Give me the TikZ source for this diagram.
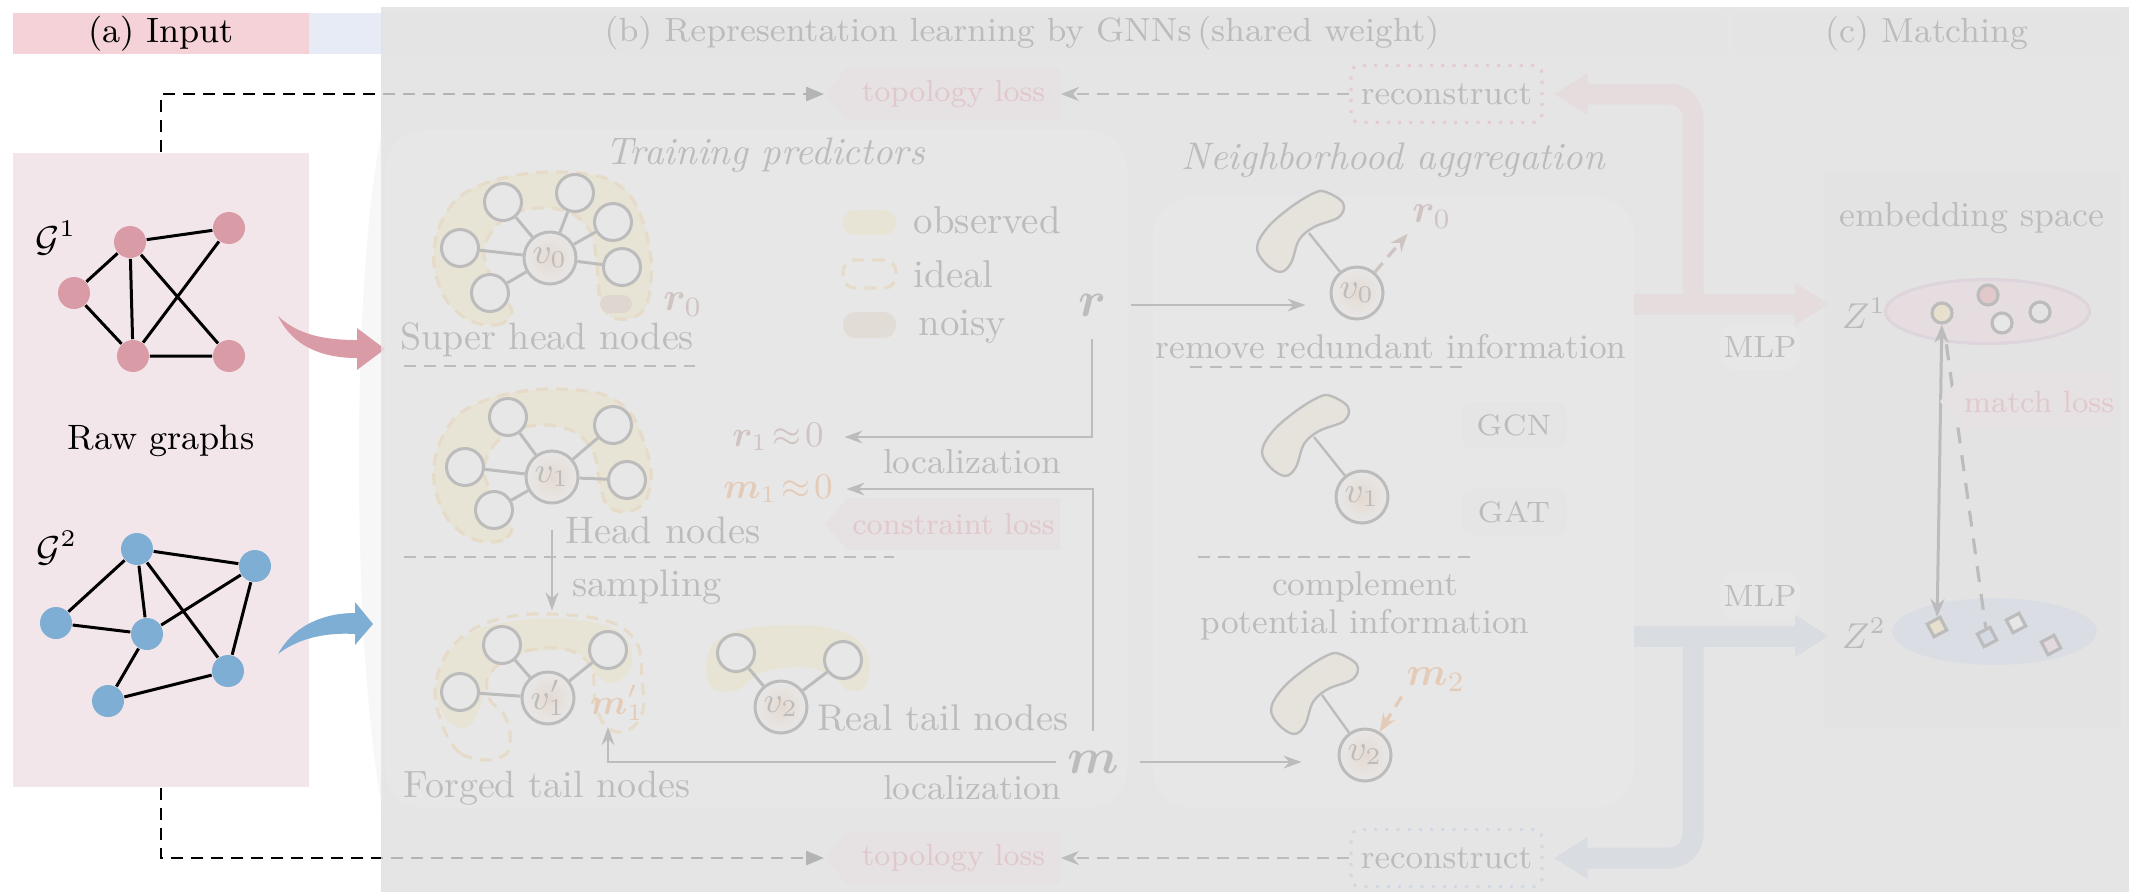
\documentclass[tikz,border=0pt]{standalone}
\usepackage{fix-cm}
\usepackage{amsmath,amssymb,bm}
\usetikzlibrary{arrows.meta,shapes.symbols,shapes.geometric,calc}

\definecolor{apink}{HTML}{F5D2D8}
\definecolor{apanelc}{HTML}{F3E6EB}
\definecolor{bblue}{HTML}{E6EBF6}
\definecolor{g1c}{HTML}{D99BA5}
\definecolor{g2c}{HTML}{7EAED3}
\definecolor{ovc}{HTML}{E2E2E2}
\definecolor{ink}{HTML}{262626}
\definecolor{lossfill}{HTML}{F6DDE2}
\definecolor{losstext}{HTML}{E06075}
\definecolor{bandc}{HTML}{FBE7A1}
\definecolor{idealc}{HTML}{F2C060}
\definecolor{noisyc}{HTML}{D7AF87}
\definecolor{brownc}{HTML}{8A5048}
\definecolor{orangec}{HTML}{F07010}
\definecolor{blobc}{HTML}{F5EBC8}
\definecolor{fatpink}{HTML}{F2C6CE}
\definecolor{fatblue}{HTML}{B8CCE6}
\definecolor{recpink}{HTML}{F07890}
\definecolor{recblue}{HTML}{90B0E0}
\definecolor{zpink}{HTML}{F2CCD5}
\definecolor{zpinkb}{HTML}{D0A0C8}
\definecolor{zyellow}{HTML}{F8D878}
\definecolor{zred}{HTML}{E06070}
\definecolor{zblue}{HTML}{BCD2EE}
\definecolor{sqblue}{HTML}{A0B8F0}
\definecolor{sqpink}{HTML}{E8B0D0}
\definecolor{vinner}{HTML}{F2B88A}

\newcommand\fsz[1]{\fontsize{#1}{#1}\selectfont}

\tikzset{
  txt/.style={inner sep=1pt,text=ink},
  gn1/.style={circle,fill=g1c,minimum size=8pt,inner sep=0pt},
  gn2/.style={circle,fill=g2c,minimum size=8pt,inner sep=0pt},
  ge/.style={line width=0.75pt,black},
  nb/.style={circle,draw=ink,line width=0.75pt,fill=white,minimum size=9.25pt,inner sep=0pt},
  ctr/.style={circle,draw=ink,line width=0.75pt,minimum size=13pt,inner sep=0pt,inner color=vinner,outer color=white,font=\fsz{9},text=ink},
  pe/.style={line width=0.75pt,draw=ink},
  loss/.style={signal,signal to=west,signal pointer angle=100,fill=lossfill,text=losstext,minimum width=58.75pt,minimum height=13pt,inner sep=0pt,font=\fsz{7.6}},
  recon/.style={rounded corners=2pt,draw,dotted,line width=0.8pt,minimum width=47.75pt,minimum height=14.25pt,inner sep=0pt,text=ink,font=\fsz{8.5}},
  sepline/.style={ink,line width=0.4pt,dash pattern=on 3pt off 2pt},
  garrow/.style={ink,line width=0.6pt,-{Stealth[length=4.5pt,width=3.2pt]}},
  fat/.style={line width=5.25pt,-{Triangle[length=8.5pt,width=10pt]}},
  idealline/.style={draw=idealc,line width=0.8pt,dash pattern=on 3pt off 2pt},
  smallbox/.style={rounded corners=3pt,fill=black!4,minimum width=26.5pt,minimum height=11.75pt,inner sep=0pt,text=ink,font=\fsz{7.4}},
  blackdash/.style={black,line width=0.7pt,dash pattern=on 3pt off 2pt,-{Triangle[length=4.5pt,width=3.5pt]}},
  inkdash/.style={ink,line width=0.7pt,dash pattern=on 3pt off 2pt,-{Stealth[length=4.5pt,width=3.5pt]}},
  pics/blob/.style={code={
    \draw[draw=ink,line width=0.6pt,fill=blobc] plot[smooth cycle,tension=0.6] coordinates {(-31,-101) (-14,-90) (-18,-76) (-43,-66) (-58,-53) (-66,-30) (-77,-21) (-92,-30) (-100,-46) (-89,-66) (-66,-86) (-43,-100)};
  }},
}

\begin{document}
\begin{tikzpicture}[x=0.25pt,y=-0.25pt]
\useasboundingbox (0,0) rectangle (2129,892);
\fill[white] (0,0) rectangle (2129,892);
\fill[black!4] (381,7) rectangle (2129,892);
\fill[black!3] (383,128) .. controls (352,260) and (350,640) .. (383,812) -- cycle;

% ---------- panels ----------
\node[fill=white,rounded corners=10pt,minimum width=185.5pt,minimum height=169.5pt,inner sep=0pt] (tp) at (756,469) {};
\node[fill=white,rounded corners=10pt,minimum width=120.25pt,minimum height=152.75pt,inner sep=0pt] (na) at (1393.5,502.5) {};
\node[fill=black!8,minimum width=74.25pt,minimum height=138.75pt,inner sep=0pt] (cp) at (1972.5,450.5) {};

% ---------- headers ----------
\fill[bblue] (309,13) rectangle (383,54);
\node[fill=black!6,minimum width=336pt,minimum height=10.25pt,inner sep=0pt] (hb) at (1055,33.5) {};
\node[txt,font=\fsz{8.4}] (hbt) at (1022,33.5) {(b) Representation learning by GNNs\,(shared weight)};
\node[fill=black!6,minimum width=97pt,minimum height=10.25pt,inner sep=0pt,font=\fsz{8.7},text=ink] (hc) at (1927,33.5) {(c) Matching};
\node[fill=apink,minimum width=74pt,minimum height=10.25pt,inner sep=0pt,font=\fsz{8.8}] (ha) at (161,33.5) {(a) Input};

% ---------- panel (a) ----------
\node[fill=apanelc,minimum width=74pt,minimum height=158.5pt,inner sep=0pt] (apan) at (161,470) {};
\node[txt,text=black,font=\fsz{9}] (g1lab) at (56,238) {$\mathcal{G}^1$};
\node[txt,text=black,font=\fsz{9}] (g2lab) at (57,548) {$\mathcal{G}^2$};
\node[txt,text=black,font=\fsz{8.8}] (raw) at (161,441) {Raw graphs};

\node[gn1] (a1) at (130,242) {};
\node[gn1] (a2) at (229,228) {};
\node[gn1] (a3) at (74,293) {};
\node[gn1] (a4) at (133,356) {};
\node[gn1] (a5) at (229,356) {};
\draw[ge] (a1)--(a2) (a1)--(a3) (a1)--(a4) (a1)--(a5) (a2)--(a4) (a3)--(a4) (a4)--(a5);

\node[gn2] (b1) at (137,549) {};
\node[gn2] (b2) at (255,566) {};
\node[gn2] (b3) at (56,623) {};
\node[gn2] (b4) at (147,634) {};
\node[gn2] (b5) at (228,671) {};
\node[gn2] (b6) at (108,701) {};
\draw[ge] (b1)--(b2) (b1)--(b3) (b1)--(b4) (b1)--(b5) (b2)--(b4) (b2)--(b5) (b3)--(b4) (b4)--(b6) (b6)--(b5);

\fill[g1c] (278,316) .. controls (292,345) and (320,358) .. (357,358) -- (357,370) -- (385,349) -- (357,328) -- (357,340) .. controls (325,340) and (298,335) .. cycle;
\fill[g2c] (278,654) .. controls (292,628) and (320,613) .. (355,613) -- (355,602) -- (373,624) -- (355,645) -- (355,634) .. controls (322,632) and (296,640) .. cycle;

% ---------- top / bottom rows ----------
\node[loss] (topo1) at (953.5,94) {topology loss};
\node[loss] (topo2) at (953.5,858) {topology loss};
\node[recon,draw=recpink] (rec1) at (1446.5,94) {reconstruct};
\node[recon,draw=recblue] (rec2) at (1446.5,858) {reconstruct};
\draw[blackdash] (apan.north) |- (topo1.west);
\draw[blackdash] (apan.south) |- (topo2.west);
\draw[inkdash] (rec1.west) -- (topo1.east);
\draw[inkdash] (rec2.west) -- (topo2.east);

% ---------- training predictors ----------
\node[txt,font=\fsz{9.6}\itshape] (tptitle) at (765,155) {Training predictors};

\path[fill=bandc,idealline] plot[smooth cycle,tension=0.55] coordinates {(512,312) (503,323) (485,325) (465,318) (445,298) (434,265) (438,230) (458,198) (495,180) (545,172) (598,176) (628,193) (643,222) (651,258) (650,290) (644,310) (628,319) (610,316) (600,298) (597,265) (591,233) (573,214) (547,208) (517,212) (495,227) (484,250) (490,275) (503,295)};
\node[fill=noisyc,rounded corners=2.25pt,minimum width=8pt,minimum height=4.5pt,inner sep=0pt] (noisy0) at (616,304) {};
\path[fill=bandc,idealline] plot[smooth cycle,tension=0.55] coordinates {(512,529) (503,540) (485,542) (465,535) (445,515) (434,482) (438,447) (458,415) (495,397) (545,389) (598,393) (628,410) (643,439) (651,470) (648,495) (638,508) (622,512) (607,505) (600,485) (596,460) (589,445) (573,431) (547,425) (517,429) (495,444) (484,467) (490,492) (503,512)};
\fill[bandc] plot[smooth cycle,tension=0.55] coordinates {(448,722) (436,690) (447,655) (477,630) (520,620) (570,619) (610,627) (630,645) (630,670) (612,683) (594,673) (586,657) (562,650) (530,652) (503,662) (486,683) (480,708) (468,727)};
\draw[idealline] plot[smooth cycle,tension=0.55] coordinates {(487,760) (460,753) (443,727) (435,690) (447,653) (477,627) (520,615) (570,615) (613,623) (637,643) (642,677) (643,710) (633,727) (617,732) (603,723) (595,700) (593,673) (583,657) (560,648) (530,650) (503,660) (487,680) (490,700) (503,713) (510,733) (507,753)};
\fill[bandc] plot[smooth cycle,tension=0.55] coordinates {(706,672) (712,645) (740,630) (785,625) (830,628) (860,642) (870,665) (864,688) (847,690) (833,676) (810,668) (783,668) (758,674) (737,690) (714,690)};

\node[ctr] (v0) at (550,258) {$v_0$};
\node[nb] (s1) at (503,202) {};
\node[nb] (s2) at (575,193) {};
\node[nb] (s3) at (613,222) {};
\node[nb] (s4) at (622,267) {};
\node[nb] (s5) at (460,248) {};
\node[nb] (s6) at (490,293) {};
\foreach \n in {s1,s2,s3,s4,s5,s6} \draw[pe] (v0) -- (\n);
\node[txt,font=\fsz{10},text=brownc] (r0a) at (683,305) {$\bm{r}_0$};
\node[txt,font=\fsz{9.5}] (shn) at (547,340) {Super head nodes};
\draw[sepline] (404,366) -- (695,366);

\node[fill=bandc,rounded corners=3pt,minimum width=13.25pt,minimum height=6.25pt,inner sep=0pt] (swobs) at (869.5,222.5) {};
\node[idealline,rounded corners=3pt,minimum width=13.25pt,minimum height=7pt,inner sep=0pt] (swideal) at (869.5,274) {};
\node[fill=noisyc!70!white,rounded corners=3pt,minimum width=13.25pt,minimum height=6.5pt,inner sep=0pt] (swnoisy) at (869.5,325) {};
\node[txt,font=\fsz{9.7},anchor=west] (lobs) at (909,220) {observed};
\node[txt,font=\fsz{9.7},anchor=west] (lideal) at (909,274) {ideal};
\node[txt,font=\fsz{9.7},anchor=west] (lnoisy) at (914,327) {noisy};

\node[ctr] (v1) at (552,477) {$v_1$};
\node[nb] (h1) at (508,417) {};
\node[nb] (h2) at (613,425) {};
\node[nb] (h3) at (465,467) {};
\node[nb] (h4) at (494,510) {};
\node[nb] (h5) at (627,480) {};
\foreach \n in {h1,h2,h3,h4,h5} \draw[pe] (v1) -- (\n);
\node[txt,font=\fsz{9.6}] (hn) at (663,530) {Head nodes};
\draw[sepline] (404,557) -- (894,557);

\node[ctr] (v1p) at (548,698) {$v_1'$};
\node[nb] (f1) at (502,645) {};
\node[nb] (f2) at (608,650) {};
\node[nb] (f3) at (460,692) {};
\foreach \n in {f1,f2,f3} \draw[pe] (v1p) -- (\n);
\node[txt,font=\fsz{9},text=orangec] (m1plab) at (617,703) {$\bm{m}_1'$};
\node[txt,font=\fsz{9.5}] (ftn) at (547,788) {Forged tail nodes};

\draw[garrow,shorten <=6.25pt,shorten >=15pt] (v1.south) -- (v1.south |- v1p.north);
\node[txt,font=\fsz{9.6}] (samp) at (647,587) {sampling};

\node[ctr] (v2) at (781,707) {$v_2$};
\node[nb] (t1) at (736,653) {};
\node[nb] (t2) at (843,660) {};
\foreach \n in {t1,t2} \draw[pe] (v2) -- (\n);
\node[txt,font=\fsz{9.3}] (rtn) at (943,718) {Real tail nodes};

\node[txt,font=\fsz{12.5}] (rsym) at (1092,305) {$\bm{r}$};
\node[txt,font=\fsz{12.5}] (mlab) at (1093,762) {$\bm{m}$};
\node[txt,font=\fsz{9},text=brownc] (r1lab) at (778,437) {$\bm{r}_1\!\approx\!0$};
\node[txt,font=\fsz{9},text=orangec] (m1lab) at (778,489) {$\bm{m}_1\!\approx\!0$};
\node[txt,font=\fsz{8.7}] (loc1) at (972,462) {localization};
\node[txt,font=\fsz{8.7}] (loc2) at (972,788) {localization};
\node[loss] (closs) at (953.5,524) {constraint loss};
\coordinate (m1tip) at (608,727);
\draw[garrow,shorten <=4.5pt,shorten >=4pt] (rsym.south) |- (r1lab.east);
\draw[garrow,shorten <=3.75pt,shorten >=2.25pt] (mlab.north) |- (m1lab.east);
\draw[garrow,shorten <=1.5pt] (mlab.west) -| (m1tip);

% ---------- neighborhood aggregation ----------
\node[txt,font=\fsz{9.6}\itshape] (natitle) at (1393,160) {Neighborhood aggregation};
\node[ctr] (v0b) at (1357,293) {$v_0$};
\node[ctr] (v1b) at (1362,497) {$v_1$};
\node[ctr] (v2b) at (1365,755) {$v_2$};
\pic at (1357,293) {blob};
\pic at (1362,497) {blob};
\pic at (1371,755) {blob};
\draw[pe,line width=0.6pt] ([shift={(-48,-60)}]v0b.center) -- (v0b);
\draw[pe,line width=0.6pt] ([shift={(-48,-60)}]v1b.center) -- (v1b);
\draw[pe,line width=0.6pt] ([shift={(-43,-60)}]v2b.center) -- (v2b);
\node[txt,font=\fsz{10},text=brownc] (r0b) at (1432,217) {$\bm{r}_0$};
\node[txt,font=\fsz{10},text=orangec] (m2b) at (1436,680) {$\bm{m}_2$};
\draw[brownc,line width=0.8pt,dash pattern=on 3pt off 2pt,-{Stealth[length=4.5pt,width=3.5pt]}] (v0b) -- (r0b.south west);
\draw[orangec,line width=0.8pt,dash pattern=on 3pt off 2pt,-{Stealth[length=4.5pt,width=3.5pt]}] (m2b.south west) -- (v2b);
\node[txt,font=\fsz{8.6}] (rri) at (1391,347) {remove redundant information};
\draw[sepline] (1190,367) -- (1465,367);
\node[smallbox] (gcn) at (1514,425) {GCN};
\node[smallbox] (gat) at (1514,512) {GAT};
\draw[sepline] (1198,557) -- (1477,557);
\node[txt,align=center,font={\fontsize{8.6}{9.5}\selectfont}] (cpi) at (1365,606) {complement\\potential information};

\draw[garrow,shorten <=5pt,shorten >=6pt] (rsym.east) -- (rsym -| v0b.west);
\draw[garrow,shorten <=4pt,shorten >=9pt] (mlab.east) -- (mlab -| v2b.west);

% ---------- matching ----------
\node[txt,font=\fsz{8.7}] (emb) at (1972,218) {embedding space};
\node[txt,font=\fsz{9}] (z1lab) at (1864,313) {$Z^1$};
\node[txt,font=\fsz{9}] (z2lab) at (1864,633) {$Z^2$};
\node[ellipse,fill=zpink,draw=zpinkb,line width=0.8pt,minimum width=51pt,minimum height=16pt,inner sep=0pt] (z1e) at (1987.5,311.5) {};
\node[ellipse,fill=zblue,minimum width=51.25pt,minimum height=16.75pt,inner sep=0pt] (z2e) at (1994.5,631.5) {};
\node[circle,draw=ink,line width=0.8pt,fill=zyellow,minimum size=5pt,inner sep=0pt] (zc1) at (1942,313) {};
\node[circle,draw=ink,line width=0.8pt,fill=zred,minimum size=5pt,inner sep=0pt] (zc2) at (1988,295) {};
\node[circle,draw=ink,line width=0.8pt,fill=white,minimum size=5pt,inner sep=0pt] (zc3) at (2002,323) {};
\node[circle,draw=ink,line width=0.8pt,fill=black!8,minimum size=5pt,inner sep=0pt] (zc4) at (2040,312) {};
\node[draw=ink,line width=0.8pt,fill=zyellow,minimum size=3.6pt,inner sep=0pt,rotate=28] (zs1) at (1937,627) {};
\node[draw=ink,line width=0.8pt,fill=sqblue,minimum size=3.6pt,inner sep=0pt,rotate=28] (zs2) at (1987,637) {};
\node[draw=ink,line width=0.8pt,fill=white,minimum size=3.6pt,inner sep=0pt,rotate=28] (zs3) at (2016,623) {};
\node[draw=ink,line width=0.8pt,fill=sqpink,minimum size=3.6pt,inner sep=0pt,rotate=28] (zs4) at (2051,645) {};
\draw[ink,line width=0.75pt,{Stealth[length=4.5pt,width=3.5pt]}-{Stealth[length=4.5pt,width=3.5pt]}] (zc1) -- (zs1);
\draw[ink,line width=0.8pt,dash pattern=on 4pt off 3pt,shorten <=5pt] (zc1) -- (zs2);
\node[loss,minimum width=37.75pt,minimum height=14.25pt,font=\fsz{7.7}] (mloss) at (2039,401.5) {match loss};

% ---------- fat arrows & MLP ----------
\coordinate (fp1) at (1634,304);
\coordinate (fb1) at (1693,304);
\coordinate (fp2) at (1634,636);
\coordinate (fb2) at (1693,636);
\draw[fat,fatpink,rounded corners=6pt,shorten >=2.5pt] (fb1) |- (rec1.east);
\draw[fat,fatpink,shorten >=2pt] (fp1) -- (fp1 -| z1lab.west);
\draw[fat,fatblue,rounded corners=6pt,shorten >=2.5pt] (fb2) |- (rec2.east);
\draw[fat,fatblue,shorten >=2pt] (fp2) -- (fp2 -| z2lab.west);
\node[smallbox,fill=white,minimum width=19.75pt,minimum height=11.25pt,font=\fsz{7.7}] (mlp1) at (1760,347) {MLP};
\node[smallbox,fill=white,minimum width=19.75pt,minimum height=11.25pt,font=\fsz{7.7}] (mlp2) at (1760,596) {MLP};

% ---------- fading overlay ----------
\fill[ovc,opacity=0.8] (381,7) rectangle (2129,892);
\end{tikzpicture}
\end{document}
